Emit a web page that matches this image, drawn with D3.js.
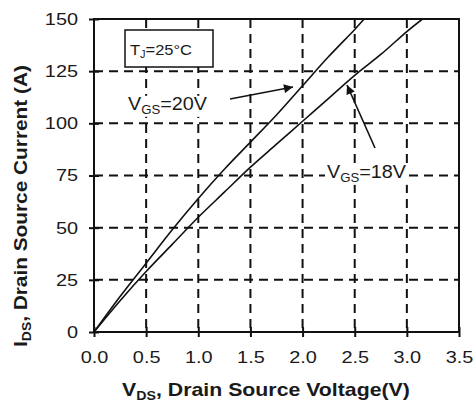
<!DOCTYPE html>
<html><head><meta charset="utf-8">
<script src="https://cdn.jsdelivr.net/npm/d3@7"></script>
<style>
body{margin:0;background:#fff;}
text{font-family:"Liberation Sans",Arial,sans-serif;fill:#1a1a1a;}
</style></head>
<body><svg id="c" width="476" height="404"></svg>
<script>
const xTicks = [0,0.5,1.0,1.5,2.0,2.5,3.0,3.5];
const yTicks = [0,25,50,75,100,125,150];
const vds20 = [0,0.25,0.5,0.75,1.0,1.25,1.5,1.75,2.0,2.25,2.5,2.59];
const ids20 = [0,17,33,49,64,78,91,104,118,132,145,150];
const vds18 = [0,0.25,0.5,0.75,1.0,1.25,1.5,1.75,2.0,2.25,2.5,2.75,3.0,3.15];
const ids18 = [0,15,29,42,55,67,79,90,101,112,123,133,144,150];

const svg = d3.select("#c");
const L=94, R=459, T=19, B=332;
const x = d3.scaleLinear().domain([0,3.5]).range([L,R]);
const y = d3.scaleLinear().domain([0,150]).range([B,T]);
const SX = 1.17;

// grid
const g = svg.append("g");
g.selectAll("line.vx").data(xTicks.slice(1,-1)).enter().append("line")
 .attr("x1",d=>x(d)).attr("x2",d=>x(d)).attr("y1",T).attr("y2",B)
 .attr("stroke","#111").attr("stroke-width",2).attr("stroke-dasharray","9,6");
g.selectAll("line.hy").data(yTicks.slice(1,-1)).enter().append("line")
 .attr("y1",d=>y(d)).attr("y2",d=>y(d)).attr("x1",L).attr("x2",R)
 .attr("stroke","#111").attr("stroke-width",2).attr("stroke-dasharray","9,6");

// curves
svg.append("clipPath").attr("id","clp").append("rect").attr("x",L).attr("y",T).attr("width",R-L).attr("height",B-T);
const line = d3.line().x(d=>x(d[0])).y(d=>y(d[1])).curve(d3.curveCatmullRom);
[[vds20,ids20],[vds18,ids18]].forEach(([vx,vy])=>{
  svg.append("path").datum(vx.map((v,i)=>[v,vy[i]])).attr("d",line)
   .attr("fill","none").attr("stroke","#111").attr("stroke-width",1.6).attr("clip-path","url(#clp)");
});

// axes (ticks crossing)
const xa = svg.append("g").attr("transform",`translate(0,${B})`)
 .call(d3.axisBottom(x).tickValues(xTicks).tickFormat(d3.format(".1f")).tickSizeInner(5).tickSizeOuter(0).tickPadding(14));
const ya = svg.append("g").attr("transform",`translate(${L},0)`)
 .call(d3.axisLeft(y).tickValues(yTicks).tickSizeInner(5).tickSizeOuter(0).tickPadding(11));
[xa,ya].forEach(a=>{
  a.select(".domain").remove();
  a.selectAll("line").attr("stroke","#111").attr("stroke-width",2);
  a.selectAll("text").style("font-size","17px").style("fill","#1a1a1a").attr("font-family",null)
   .attr("transform",`scale(${SX},1)`);
});
xa.selectAll("text").attr("x",0);
ya.selectAll("text").attr("x",-16/SX);
xa.selectAll(".tick").append("line").attr("y1",0).attr("y2",-5).attr("stroke","#111").attr("stroke-width",2);
ya.selectAll(".tick").append("line").attr("x1",0).attr("x2",5).attr("stroke","#111").attr("stroke-width",2);

// frame
svg.append("rect").attr("x",L).attr("y",T).attr("width",R-L).attr("height",B-T)
 .attr("fill","none").attr("stroke","#111").attr("stroke-width",2);

// TJ box
svg.append("rect").attr("x",125).attr("y",30).attr("width",88).attr("height",37)
 .attr("fill","#fff").attr("stroke","#111").attr("stroke-width",1.5);
const tj = svg.append("text").attr("x",130/1.1).attr("y",55).attr("transform","scale(1.1,1)").style("font-size","15px");
tj.append("tspan").text("T");
tj.append("tspan").text("J").style("font-size","10px").attr("dy",3);
tj.append("tspan").text("=25°C").attr("dy",-3);

// arrows
const defs = svg.append("defs");
defs.append("marker").attr("id","ah").attr("viewBox","0 0 10 10").attr("refX",10).attr("refY",5)
 .attr("markerWidth",10).attr("markerHeight",9).attr("markerUnits","userSpaceOnUse").attr("orient","auto")
 .append("path").attr("d","M0,0 L10,5 L0,10 Z").attr("fill","#111");
function label(tx,ty,sub,rest){
  const t = svg.append("text").attr("x",tx/1.1).attr("y",ty).attr("transform","scale(1.1,1)").style("font-size","18px");
  t.append("tspan").text("V");
  t.append("tspan").text(sub).style("font-size","12px").attr("dy",4);
  t.append("tspan").text(rest).attr("dy",-4);
  const bb = t.node().getBBox();
  svg.insert("rect", () => t.node()).attr("x",bb.x*1.1-2).attr("y",bb.y+2).attr("width",bb.width*1.1+4).attr("height",bb.height-2).attr("fill","#fff");
}
label(128,110,"GS","=20V");
label(327,178,"GS","=18V");
svg.append("line").attr("x1",230).attr("y1",99).attr("x2",293).attr("y2",87)
 .attr("stroke","#111").attr("stroke-width",1.6).attr("marker-end","url(#ah)");
svg.append("line").attr("x1",375).attr("y1",148).attr("x2",347).attr("y2",85)
 .attr("stroke","#111").attr("stroke-width",1.6).attr("marker-end","url(#ah)");

// axis titles
function fitTitle(t, cx, cy, rot, len){
  t.attr("x",0).attr("y",0).attr("text-anchor","middle");
  const w = t.node().getBBox().width;
  t.attr("transform",`translate(${cx},${cy}) rotate(${rot}) scale(${len/w},1)`);
}
const xt = svg.append("text").style("font-size","18px").style("font-weight","bold");
xt.append("tspan").text("V");
xt.append("tspan").text("DS").style("font-size","12px").attr("dy",4);
xt.append("tspan").text(", Drain Source Voltage(V)").attr("dy",-4);
fitTitle(xt, 266, 396, 0, 288);
const yt = svg.append("text").style("font-size","18px").style("font-weight","bold");
yt.append("tspan").text("I");
yt.append("tspan").text("DS").style("font-size","12px").attr("dy",4);
yt.append("tspan").text(", Drain  Source Current (A)").attr("dy",-4);
fitTitle(yt, 27, 206, -90, 282);
</script></body></html>
